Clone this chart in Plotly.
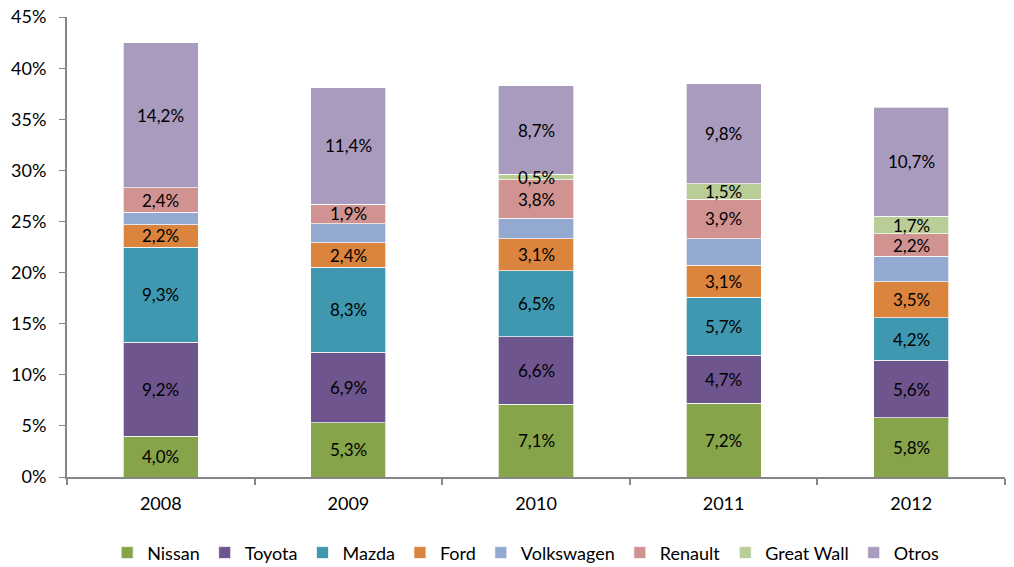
import plotly.graph_objects as go

years = ["2008", "2009", "2010", "2011", "2012"]
nissan = [4.0, 5.3, 7.1, 7.2, 5.8]
toyota = [9.2, 6.9, 6.6, 4.7, 5.6]
mazda = [9.3, 8.3, 6.5, 5.7, 4.2]
ford = [2.2, 2.4, 3.1, 3.1, 3.5]
volkswagen = [1.2, 1.9, 2.0, 2.6, 2.5]
renault = [2.4, 1.9, 3.8, 3.9, 2.2]
great_wall = [0.0, 0.0, 0.5, 1.5, 1.7]
otros = [14.2, 11.4, 8.7, 9.8, 10.7]

series = [
    ("Nissan", nissan, "#86A44A", True),
    ("Toyota", toyota, "#6F558E", True),
    ("Mazda", mazda, "#3F98B0", True),
    ("Ford", ford, "#DB843D", True),
    ("Volkswagen", volkswagen, "#93A9CF", False),
    ("Renault", renault, "#D19392", True),
    ("Great Wall", great_wall, "#B9CD96", True),
    ("Otros", otros, "#A99BBD", True),
]

FONT = "Lato, 'Open Sans', sans-serif"
xpos = list(range(len(years)))
bounds = [i - 0.5 for i in range(len(years) + 1)]

fig = go.Figure()
base = [0.0] * len(years)
annotations = []
for name, vals, color, labeled in series:
    fig.add_trace(go.Bar(
        name=name,
        x=xpos,
        y=[v / 100 for v in vals],
        width=0.4,
        marker=dict(color=color, line=dict(color="rgba(255,255,255,0.7)", width=1)),
        hoverinfo="skip",
    ))
    for i, v in enumerate(vals):
        if labeled and v > 0:
            annotations.append(dict(
                x=xpos[i], y=(base[i] + v / 2) / 100,
                xref="x", yref="y",
                text=f"{v:.1f}%".replace(".", ","),
                showarrow=False,
                font=dict(size=17, color="black", family=FONT),
            ))
        base[i] += v

fig.update_layout(
    barmode="stack",
    width=1014,
    height=567,
    margin=dict(l=59, r=17, t=9, b=98, autoexpand=False),
    paper_bgcolor="white",
    plot_bgcolor="white",
    font=dict(family=FONT, size=18, color="black"),
    annotations=annotations,
    showlegend=True,
    legend=dict(
        orientation="h",
        x=0.489, xanchor="center",
        y=-0.165, yanchor="middle",
        font=dict(size=18, family=FONT),
        itemwidth=30,
        traceorder="normal",
    ),
    xaxis=dict(
        range=[-0.5, len(years) - 0.5],
        tickmode="array", tickvals=xpos, ticktext=years,
        showline=True, linecolor="#868686", linewidth=1.5,
        ticks="outside", ticklen=10, tickcolor="rgba(0,0,0,0)",
        minor=dict(tickmode="array", tickvals=bounds, ticks="outside",
                   ticklen=6, tickcolor="#868686", tickwidth=1.5, showgrid=False),
        showgrid=False, zeroline=False, automargin=False,
        tickfont=dict(size=18),
    ),
    yaxis=dict(
        range=[0, 0.4501], dtick=0.05, tickformat=".0%",
        ticksuffix="\u00a0\u00a0",
        ticklabeloverflow="allow",
        showline=True, linecolor="#868686", linewidth=1.5,
        ticks="outside", ticklen=6, tickcolor="#868686",
        showgrid=False, zeroline=False, automargin=False,
        tickfont=dict(size=18),
    ),
)

fig.write_html("out.html")
